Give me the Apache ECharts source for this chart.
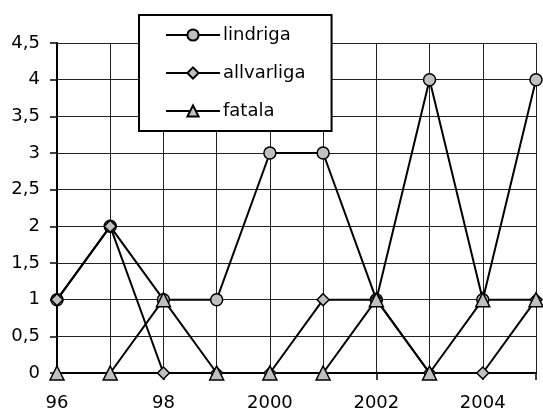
<!DOCTYPE html>
<html><head><meta charset="utf-8">
<script src="https://cdn.jsdelivr.net/npm/echarts@6/dist/echarts.min.js"></script>
<style>html,body{margin:0;padding:0;background:#fff}#c{width:543px;height:412px}</style>
</head><body><div id="c"></div>
<script>
const years = ['96','97','98','99','2000','2001','2002','2003','2004','2005'];
const lindriga = [1,2,1,1,3,3,1,4,1,4];
const allvarliga = [1,2,0,0,0,1,1,0,0,1];
const fatala = [0,0,1,0,0,0,1,0,1,1];

const FONT = 'DejaVu Sans, sans-serif';
const chart = echarts.init(document.getElementById('c'));
const mk = (name, data, symbol, size) => ({
  name, type: 'line', data, symbol, symbolSize: size, showAllSymbol: true,
  lineStyle: {color: '#000', width: 2},
  itemStyle: {color: '#c0c0c0', borderColor: '#000', borderWidth: 1.5},
  emphasis: {disabled: true}, animation: false
});
chart.setOption({
  animation: false,
  grid: {left: 57, right: 7, top: 43, bottom: 38},
  legend: {
    left: 139, top: 15, orient: 'vertical',
    backgroundColor: '#fff', borderColor: '#000', borderWidth: 2,
    padding: [11, 26, 11, 26], itemGap: 20, itemWidth: 54, itemHeight: 14,
    textStyle: {fontFamily: FONT, fontSize: 18, color: '#000', padding: [0,0,0,-2]},
    data: ['lindriga','allvarliga','fatala']
  },
  xAxis: {
    type: 'category', data: years, boundaryGap: false,
    axisLine: {lineStyle: {color: '#000', width: 2}},
    axisTick: {show: true, interval: 0, length: 7, lineStyle: {color: '#000', width: 1.5}},
    axisLabel: {interval: 1, margin: 21, fontFamily: FONT, fontSize: 18, color: '#000'},
    splitLine: {show: true, interval: 0, lineStyle: {color: '#222', width: 1}}
  },
  yAxis: {
    type: 'value', min: 0, max: 4.5, interval: 0.5,
    axisLine: {show: true, lineStyle: {color: '#000', width: 2}},
    axisTick: {show: true, length: 7, lineStyle: {color: '#000', width: 1.5}},
    axisLabel: {margin: 17, fontFamily: FONT, fontSize: 18, color: '#000',
      formatter: v => String(v).replace('.', ',')},
    splitLine: {show: true, lineStyle: {color: '#222', width: 1}}
  },
  series: [
    mk('lindriga', lindriga, 'circle', 12),
    mk('allvarliga', allvarliga, 'diamond', 12),
    mk('fatala', fatala, 'triangle', 14)
  ]
});
</script></body></html>
